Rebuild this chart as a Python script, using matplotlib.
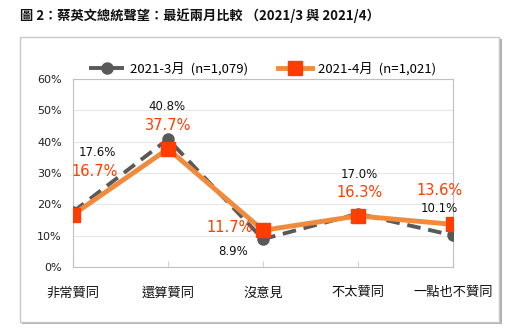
import matplotlib
matplotlib.use("Agg")
import matplotlib.pyplot as plt
from matplotlib.patches import Rectangle

plt.rcParams['font.family'] = ['Noto Sans CJK TC', 'DejaVu Sans']

categories = ["非常贊同", "還算贊同", "沒意見", "不太贊同", "一點也不贊同"]
mar_values = [17.6, 40.8, 8.9, 17.0, 10.1]
apr_values = [16.7, 37.7, 11.7, 16.3, 13.6]
mar_label = "2021-3月  (n=1,079)"
apr_label = "2021-4月  (n=1,021)"
yticks = [0, 10, 20, 30, 40, 50, 60]
title = "圖 2：蔡英文總統聲望：最近兩月比較 （2021/3 與 2021/4）"

W, H = 515, 335
fig = plt.figure(figsize=(W/100, H/100), dpi=100)
fig.patch.set_facecolor('white')

# outer frame with shadow
fig.patches.append(Rectangle((22/W, 1-324/H), 480/W, 285/H, transform=fig.transFigure,
                             facecolor='#b0b0b0', edgecolor='none', zorder=0))
fig.patches.append(Rectangle((20/W, 1-322/H), 479/W, 285/H, transform=fig.transFigure,
                             facecolor='white', edgecolor='#c8c8c8', linewidth=1, zorder=1))

fig.text(20/W, 1-16/H, title, fontsize=9.5, fontweight='bold', color='#111111',
         ha='left', va='center')

ax = fig.add_axes([73/W, 1-267/H, 380/W, 188/H])
ax.set_zorder(2)
x = list(range(len(categories)))

ax.plot(x, mar_values, color='#595959', linestyle=(0, (3.5, 2)), linewidth=2.8,
        marker='o', markersize=8, markerfacecolor='#595959', markeredgecolor='#595959',
        label=mar_label, zorder=3)
ax.plot(x, apr_values, color='#F08A3C', linewidth=3.5,
        marker='s', markersize=10, markerfacecolor='#FF3D00', markeredgecolor='#FF3D00',
        label=apr_label, zorder=4)

ax.set_xlim(0, 4)
ax.set_ylim(0, 60)
ax.set_yticks(yticks)
ax.set_yticklabels([f"{v}%" for v in yticks], fontsize=8, color='#222222', family=['DejaVu Sans'])
ax.set_xticks(x)
ax.set_xticklabels(categories, fontsize=9.5, color='#111111')
ax.tick_params(axis='y', length=0, pad=8)
ax.tick_params(axis='x', direction='in', length=4, color='#d0d0d0', pad=14)
ax.grid(axis='y', color='#e6e6e6', linewidth=0.8)
ax.set_axisbelow(True)
for s in ['top', 'right']:
    ax.spines[s].set_color('#c0c0c0')
    ax.spines[s].set_linewidth(0.8)
ax.spines['left'].set_color('#c0c0c0')
ax.spines['bottom'].set_color('#c0c0c0')

mar_off = [(24, 59), (-1, 33), (-30, -12), (1, 39), (-14, 27)]
apr_off = [(22, 43), (0, 23), (-33, 3), (1, 23), (-14, 34)]
for i in x:
    ax.annotate(f"{mar_values[i]:.1f}%", (x[i], mar_values[i]), xytext=mar_off[i],
                textcoords='offset pixels', ha='center', va='center', fontsize=8.5,
                color='#111111', family=['DejaVu Sans'], zorder=5)
    ax.annotate(f"{apr_values[i]:.1f}%", (x[i], apr_values[i]), xytext=apr_off[i],
                textcoords='offset pixels', ha='center', va='center', fontsize=10.5,
                color='#FF3D00', family=['DejaVu Sans'], zorder=5)

leg = ax.legend(loc='center', bbox_to_anchor=(0.5, 1 + 10/188), ncol=2, frameon=False,
                fontsize=9.5, handlelength=2.6, columnspacing=2.2, borderaxespad=0,
                handletextpad=0.5)

fig.savefig("out.png", dpi=100, facecolor='white')
